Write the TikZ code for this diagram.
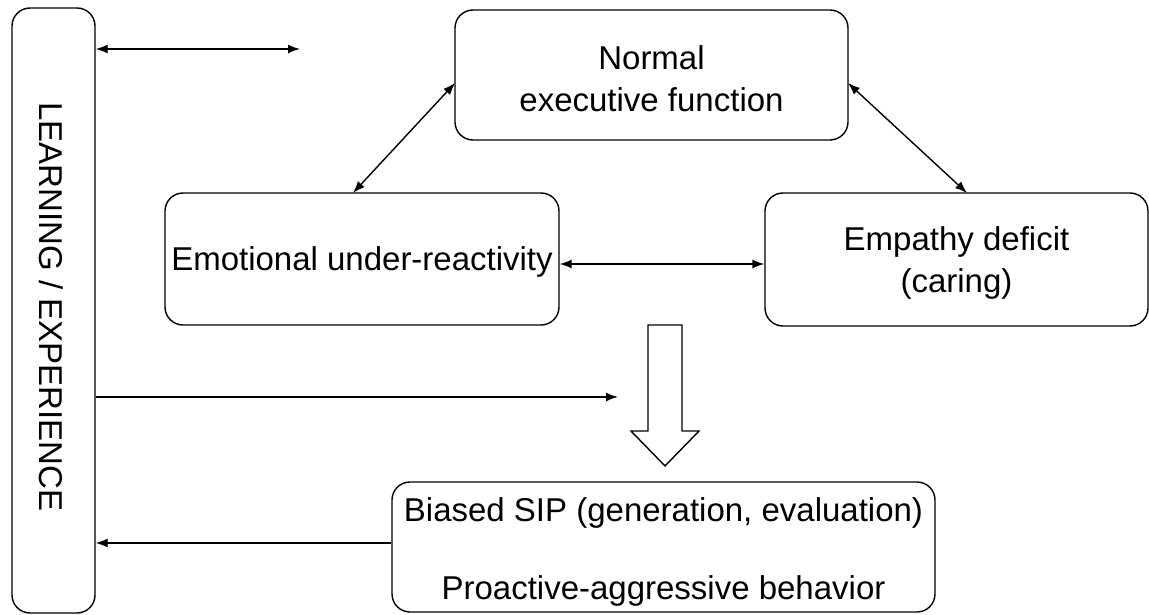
\documentclass[tikz,border=0pt]{standalone}
\usepackage{fontspec}
\setmainfont{Liberation Sans}
\usetikzlibrary{arrows.meta,calc}
\begin{document}
\begin{tikzpicture}[x=1pt,y=-1pt,
  every node/.style={font=\fontsize{33}{42}\selectfont},
  rbox/.style={draw,line width=1.4pt,rounded corners=18pt,inner sep=0pt,align=center},
  conn/.style={line width=1.4pt,-{Latex[length=12pt,width=9pt]}},
  bconn/.style={line width=1.4pt,{Latex[length=12pt,width=9pt]}-{Latex[length=12pt,width=9pt]}}]
\useasboundingbox (0,0) rectangle (1149,615);
\node[rbox,minimum width=83pt,minimum height=605pt] (L) at (53.5,310.5) {};
\node[rotate=-90] (Lt) at (51,307) {LEARNING / EXPERIENCE};
\node[rbox,minimum width=393pt,minimum height=130pt] (N) at (651.5,75) {};
\node (Nt) at (651.5,79) [align=center] {Normal\\executive function};
\node[rbox,minimum width=394pt,minimum height=132pt] (E) at (362,259) {};
\node (Et) at (362,262) {Emotional under-reactivity};
\node[rbox,minimum width=383pt,minimum height=133pt] (P) at (956.5,259.5) {};
\node (Pt) at (956.5,263) [align=center] {Empathy deficit\\(caring)};
\node[rbox,minimum width=543pt,minimum height=130pt] (B) at (663.5,547) {};
\node (B1) at (663.5,513) {Biased SIP (generation, evaluation)};
\node (B2) at (663.5,591) {Proactive-aggressive behavior};
% arrows
\coordinate (t1) at (300,49);
\draw[bconn] (L.east |- t1) -- (t1);
\coordinate (d1) at (353,193);
\coordinate (d2) at (455,83);
\draw[bconn] (d1) -- (d2);
\coordinate (d3) at (848,83);
\coordinate (d4) at (967,193);
\draw[bconn] (d3) -- (d4);
\draw[bconn] (E.east |- 0,264) -- (P.west |- 0,264);
\coordinate (m1) at (618,397);
\draw[conn] (L.east |- m1) -- (m1);
\draw[conn] (B.west |- 0,543) -- (L.east |- 0,543);
% hollow arrow
\draw[line width=1.4pt,line join=miter] (648,325) -- (682,325) -- (682,431) -- (699,431) -- (665,466) -- (631,431) -- (648,431) -- cycle;
\end{tikzpicture}
\end{document}
